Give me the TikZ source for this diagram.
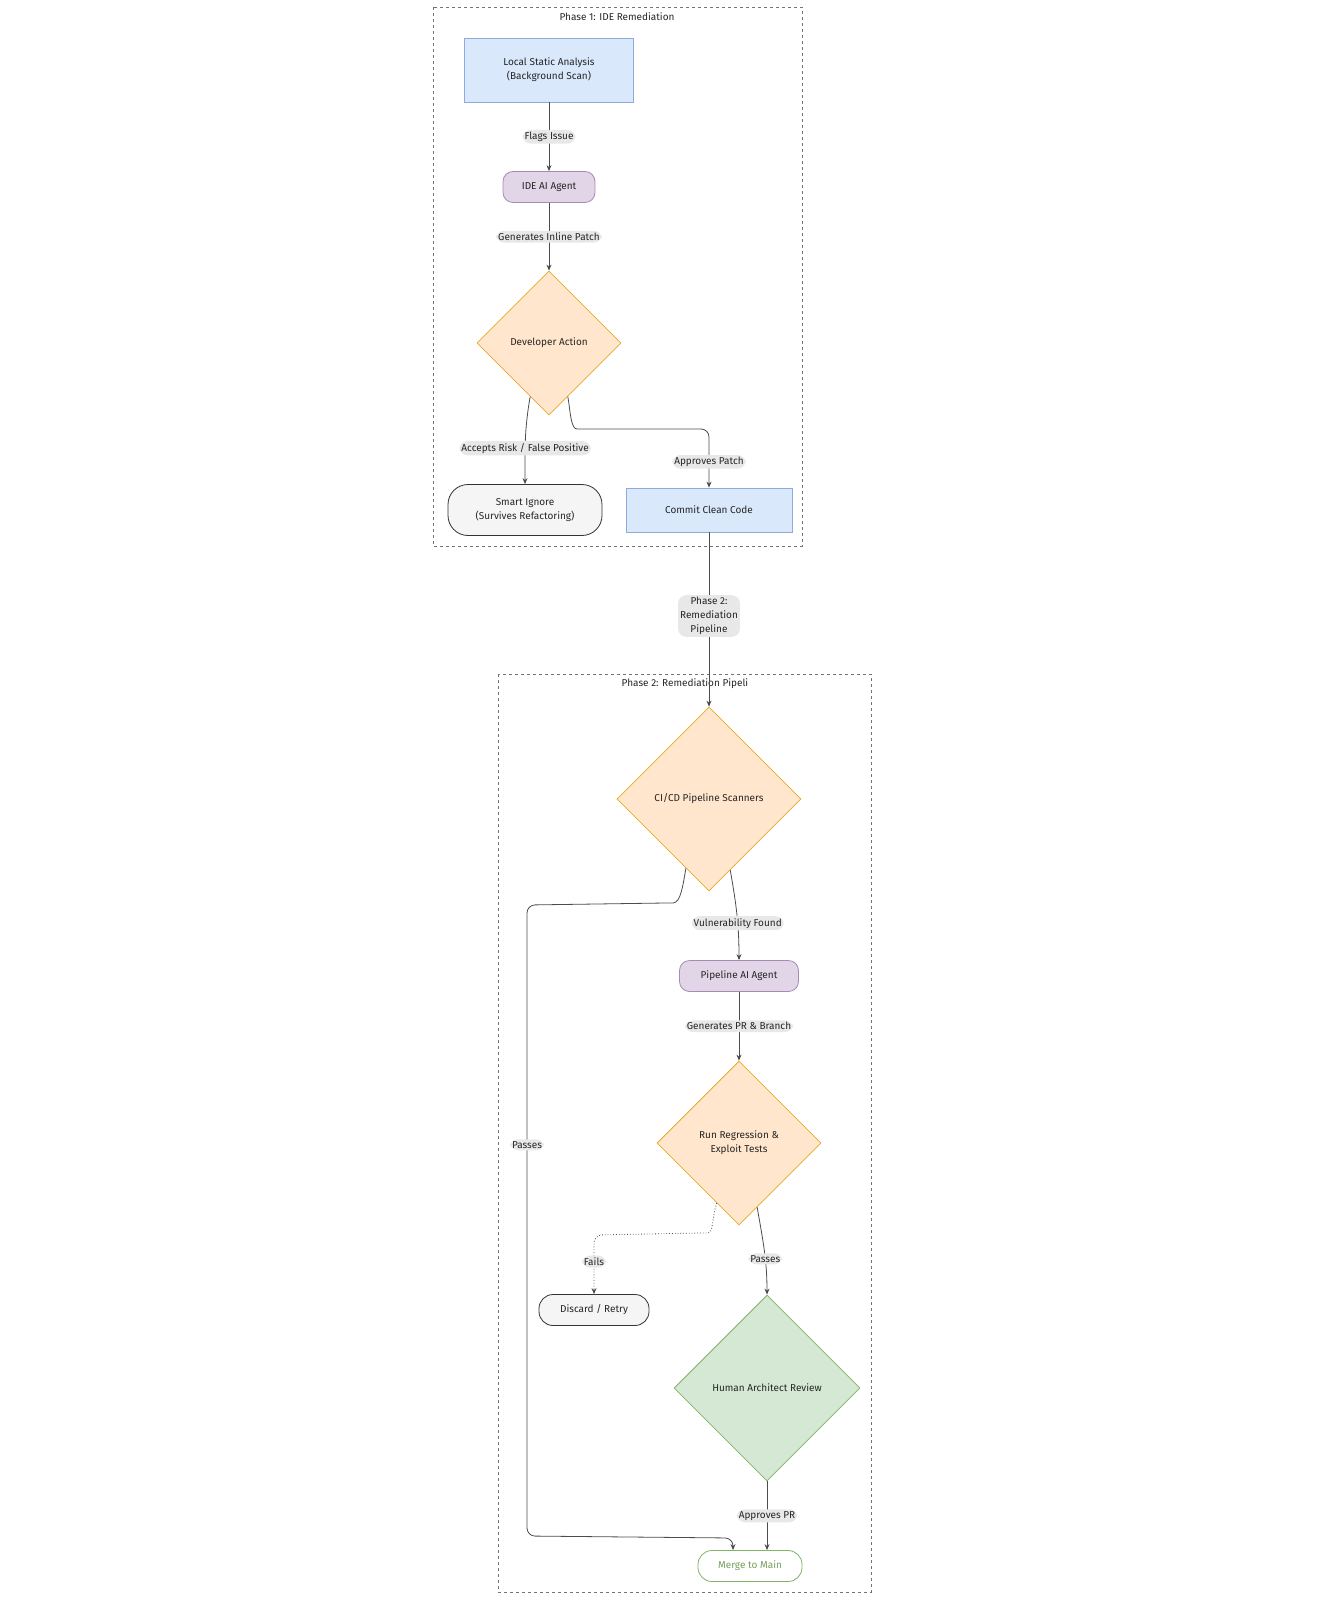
\documentclass[tikz,border=0pt]{standalone}
\usepackage{fontspec}
\setmainfont{Fira Sans}
\usetikzlibrary{arrows.meta,calc,positioning,shapes.geometric}
\definecolor{blueF}{HTML}{DAE8FC}\definecolor{blueD}{HTML}{8FAADC}
\definecolor{purpF}{HTML}{E1D5E7}\definecolor{purpD}{HTML}{A68BB5}
\definecolor{orgF}{HTML}{FFE6CC}\definecolor{orgD}{HTML}{E8A92A}
\definecolor{grnF}{HTML}{D5E8D4}\definecolor{grnD}{HTML}{82B366}
\definecolor{lblF}{HTML}{E8E8E8}
\tikzset{
	every node/.style={font=\fontsize{10}{14}\selectfont, text=black!85},
	phase/.style={draw=black!55, dashed, thick},
	box/.style={draw=blueD, fill=blueF, thick, align=center},
	agent/.style={draw=purpD, fill=purpF, thick, rounded corners=10pt, minimum height=31pt},
	pill/.style={draw=black!80, fill=black!4, thick, rounded corners=14pt, align=center},
	dec/.style={diamond, aspect=1, draw=orgD, fill=orgF, thick, align=center, inner sep=0pt},
	lbl/.style={fill=lblF, inner sep=2pt, align=center},
	arr/.style={draw=black!70, thick, -{Stealth[length=6pt,width=5pt]}, rounded corners=8pt}
}
\begin{document}
\begin{tikzpicture}[x=1pt,y=-1pt]
\useasboundingbox (0,0) rectangle (1332,1600);
% phase frames
\draw[phase] (433,7) rectangle (802,546);
\node (ph1) at (617,17) {Phase 1: IDE Remediation};
\draw[phase] (498,674) rectangle (871,1592);
\node (ph2) at (685,684) {Phase 2: Remediation Pipeli};
% phase 1
\node[box, minimum width=169pt, minimum height=64pt] (scan) at (549,70) {Local Static Analysis\\(Background Scan)};
\node[agent, minimum width=92pt] (ideai) at (549,187) {IDE AI Agent};
\node[dec, minimum size=144pt] (dev) at (549,343) {Developer Action};
\node[pill, minimum width=154pt, minimum height=51pt, rounded corners=20pt] (ignore) at (525,510) {Smart Ignore\\(Survives Refactoring)};
\node[box, minimum width=166pt, minimum height=44pt] (commit) at (709,510) {Commit Clean Code};
% phase 2
\node[dec, minimum size=184pt] (cicd) at (709,799) {CI/CD Pipeline Scanners};
\node[agent, minimum width=119pt] (pipeai) at (739,976) {Pipeline AI Agent};
\node[dec, minimum size=164pt] (tests) at (739,1143) {Run Regression \&\\Exploit Tests};
\node[pill, minimum width=110pt, minimum height=31pt] (discard) at (594,1310) {Discard / Retry};
\node[dec, draw=grnD, fill=grnF, minimum size=186pt] (review) at (767,1388) {Human Architect Review};
\node[pill, draw=grnD, fill=white, text=grnD!90!black, minimum width=104pt, minimum height=31pt] (merge) at (750,1566) {Merge to Main};
% edges
\draw[arr] (scan) -- node[lbl]{Flags Issue} (ideai);
\draw[arr] (ideai) -- node[lbl]{Generates Inline Patch} (dev);
\draw[arr] ($(dev.south)!.26!(dev.west)$) to[out=-100,in=90] node[lbl,pos=.6]{Accepts Risk / False Positive} (ignore.north);
\draw[arr] ($(dev.south)!.26!(dev.east)$) to[out=-80,in=180] (585,429) -| node[lbl,pos=.78]{Approves Patch} (commit.north);
\draw[arr] (commit) -- node[lbl,pos=.48]{Phase 2:\\Remediation\\Pipeline} (cicd.north);
\draw[arr] ($(cicd.south)!.23!(cicd.east)$) to[out=-80,in=90] node[lbl,pos=.6]{Vulnerability Found} (pipeai.north);
\draw[arr] ($(cicd.south)!.25!(cicd.west)$) to[out=-100,in=0] (665,903) -- (527,905) -- node[lbl,pos=.38]{Passes} (527,1536) -- (733,1538) -- ([xshift=-17pt]merge.north);
\draw[arr] (pipeai) -- node[lbl]{Generates PR \& Branch} (tests);
\draw[arr, dotted] ($(tests.south)!.27!(tests.west)$) to[out=-110,in=0] (700,1233) -- (594,1235) -- node[lbl,pos=.45]{Fails} (discard.north);
\draw[arr] ($(tests.south)!.22!(tests.east)$) to[out=-80,in=90] node[lbl,pos=.6]{Passes} (review.north);
\draw[arr] (review.south) -- node[lbl,pos=.5]{Approves PR} ([xshift=17pt]merge.north);
\end{tikzpicture}
\end{document}
